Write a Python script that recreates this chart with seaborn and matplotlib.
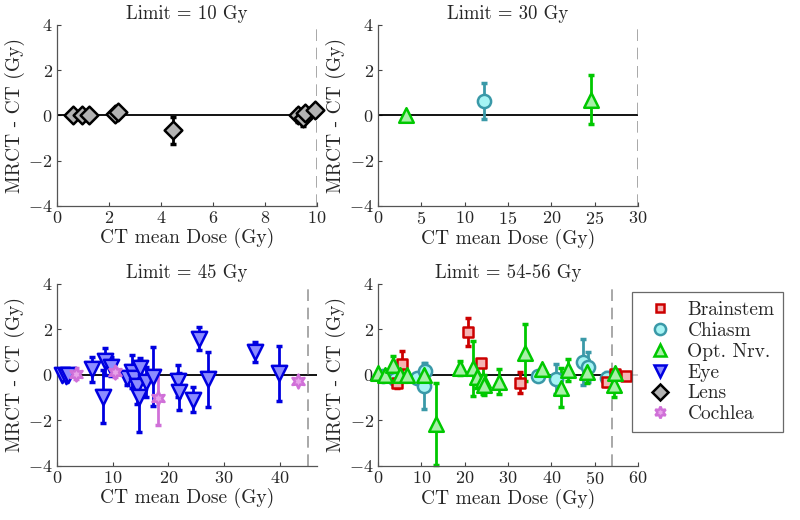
import numpy as np
import pandas as pd
import matplotlib
matplotlib.use("Agg")
import matplotlib.pyplot as plt
from matplotlib.lines import Line2D
import seaborn as sns

# ---------------- data ----------------
organs = ["Brainstem", "Chiasm", "Opt. Nrv.", "Eye", "Lens", "Cochlea"]
panel_titles = ["Limit = 10 Gy", "Limit = 30 Gy", "Limit = 45 Gy", "Limit = 54-56 Gy"]
panel_limits = [10, 30, 45, 54]
panel_xmax = [10, 30, 46.6, 60]
panel_xticks = [[0, 2, 4, 6, 8, 10], [0, 5, 10, 15, 20, 25, 30],
                [0, 10, 20, 30, 40], [0, 10, 20, 30, 40, 50, 60]]

# panel 1 : Lens
p1_lens_x = [0.62, 0.95, 1.23, 2.23, 2.35, 4.46, 9.27, 9.45, 9.54, 9.92]
p1_lens_y = [0.0, 0.0, 0.0, 0.05, 0.15, -0.65, 0.0, -0.1, 0.1, 0.26]
p1_lens_e = [0.0, 0.0, 0.0, 0.1, 0.1, 0.6, 0.3, 0.36, 0.25, 0.15]

# panel 2
p2_chiasm_x = [12.2]
p2_chiasm_y = [0.65]
p2_chiasm_e = [0.8]
p2_optnrv_x = [3.2, 24.6]
p2_optnrv_y = [0.02, 0.7]
p2_optnrv_e = [0.0, 1.07]

# panel 3
p3_eye_x = [1.0, 1.6, 2.0, 6.3, 8.3, 8.7, 9.8, 12.5, 13.4, 13.8, 14.3, 14.7,
            14.9, 15.9, 17.3, 21.7, 21.9, 24.4, 25.5, 27.1, 35.6, 39.8]
p3_eye_y = [0.0, -0.05, 0.0, 0.25, -0.95, 0.6, 0.37, -0.15, 0.15, -0.15, -0.5,
            -0.95, 0.3, -0.3, -0.07, -0.25, -0.73, -1.1, 1.6, -0.2, 1.0, 0.07]
p3_eye_e = [0.0, 0.05, 0.0, 0.55, 1.15, 0.6, 0.42, 0.3, 0.72, 0.4, 0.8, 1.55,
            0.45, 0.65, 1.3, 0.7, 0.8, 0.55, 0.5, 1.2, 0.45, 1.2]
p3_coch_x = [3.5, 10.4, 18.2, 43.2]
p3_coch_y = [0.05, 0.12, -1.0, -0.27]
p3_coch_e = [0.25, 0.2, 1.2, 0.1]

# panel 4
p4_brain_x = [4.3, 5.5, 20.8, 23.7, 32.8, 52.9, 54.7, 57.2]
p4_brain_y = [-0.37, 0.48, 1.88, 0.54, -0.34, -0.3, 0.05, -0.05]
p4_brain_e = [0.2, 0.55, 0.63, 0.1, 0.45, 0.2, 0.1, 0.0]
p4_chiasm_x = [1.2, 3.9, 8.9, 10.5, 10.8, 37.0, 41.1, 47.2, 48.5, 52.8]
p4_chiasm_y = [-0.05, -0.2, -0.15, -0.48, 0.17, -0.04, -0.17, 0.56, 0.34, -0.12]
p4_chiasm_e = [0.0, 0.2, 0.1, 1.0, 0.35, 0.0, 0.65, 1.0, 0.65, 0.25]
p4_optnrv_x = [0.1, 1.6, 3.5, 5.1, 6.6, 10.6, 13.4, 18.9, 22.0, 22.9, 24.2,
               24.5, 28.0, 33.9, 37.8, 42.2, 43.9, 48.2, 54.5, 54.7]
p4_optnrv_y = [0.07, 0.0, 0.44, 0.0, 0.0, 0.0, -2.15, 0.29, 0.29, -0.07, -0.22,
               -0.44, -0.3, 0.98, 0.25, -0.56, 0.22, 0.15, -0.44, 0.1]
p4_optnrv_e = [0.05, 0.05, 0.4, 0.3, 0.1, 0.3, 1.8, 0.3, 1.2, 0.5, 0.6,
               0.45, 0.55, 1.25, 0.05, 0.85, 0.5, 0.5, 0.55, 0.1]

# ---------------- styles ----------------
edge = {"Brainstem": "#cc0000", "Chiasm": "#3a99a8", "Opt. Nrv.": "#00c800",
        "Eye": "#0000e0", "Lens": "#000000", "Cochlea": "#d070d8"}
face = {"Brainstem": "#f5b3b3", "Chiasm": "#a6f4f4", "Opt. Nrv.": "#a8f0a8",
        "Eye": "#8c8cff", "Lens": "#b3b3b3", "Cochlea": "#e8a3ea"}
mark = {"Brainstem": "s", "Chiasm": "o", "Opt. Nrv.": "^", "Eye": "v",
        "Lens": "D", "Cochlea": (6, 1, 0)}
msize = {"Brainstem": 7.5, "Chiasm": 9.5, "Opt. Nrv.": 10.5, "Eye": 11,
         "Lens": 9, "Cochlea": 10}

sns.set_style("ticks")
plt.rcParams["font.family"] = ["cmr10", "DejaVu Serif"]
plt.rcParams["mathtext.fontset"] = "cm"
plt.rcParams["axes.formatter.use_mathtext"] = True
plt.rcParams["axes.unicode_minus"] = True

rows = []
def add(panel, organ, xs, ys, es):
    for x, y, e in zip(xs, ys, es):
        rows.append(dict(panel=panel, organ=organ, x=x, y=y, e=e))

add(0, "Lens", p1_lens_x, p1_lens_y, p1_lens_e)
add(1, "Opt. Nrv.", p2_optnrv_x, p2_optnrv_y, p2_optnrv_e)
add(1, "Chiasm", p2_chiasm_x, p2_chiasm_y, p2_chiasm_e)
add(2, "Eye", p3_eye_x, p3_eye_y, p3_eye_e)
add(2, "Cochlea", p3_coch_x, p3_coch_y, p3_coch_e)
add(3, "Chiasm", p4_chiasm_x, p4_chiasm_y, p4_chiasm_e)
add(3, "Brainstem", p4_brain_x, p4_brain_y, p4_brain_e)
add(3, "Opt. Nrv.", p4_optnrv_x, p4_optnrv_y, p4_optnrv_e)
df = pd.DataFrame(rows)

fig = plt.figure(figsize=(8, 5.2), dpi=100)
positions = [[0.071, 0.604, 0.325, 0.348], [0.4725, 0.604, 0.325, 0.348],
             [0.071, 0.104, 0.325, 0.35], [0.4725, 0.104, 0.325, 0.35]]

for i in range(4):
    ax = fig.add_axes(positions[i])
    ax.axhline(0, color="black", lw=1.3, zorder=1)
    ax.axvline(panel_limits[i], color="#999999", lw=1.2, ls=(0, (7, 4)), zorder=1)
    sub = df[df.panel == i]
    for organ in sub.organ.unique():
        d = sub[sub.organ == organ]
        eb = ax.errorbar(d.x, d.y, yerr=d.e, fmt="none", ecolor=edge[organ],
                         elinewidth=2.0, capsize=2.5, capthick=2.5, zorder=2)
        for art in eb.lines[1] + eb.lines[2]:
            art.set_clip_on(False)
        sns.scatterplot(data=d, x="x", y="y", ax=ax, marker=mark[organ],
                        s=msize[organ] ** 2, color=face[organ],
                        edgecolor=edge[organ], linewidth=1.8, zorder=3,
                        legend=False, clip_on=False)
    ax.set_xlim(0, panel_xmax[i])
    ax.set_ylim(-4, 4)
    ax.set_xticks(panel_xticks[i])
    ax.set_yticks([-4, -2, 0, 2, 4])
    ax.set_title(panel_titles[i], fontsize=13.5, pad=4)
    ax.set_xlabel("CT mean Dose (Gy)", fontsize=14, labelpad=1)
    ax.set_ylabel("MRCT - CT (Gy)", fontsize=14, labelpad=2)
    ax.tick_params(direction="in", length=3, width=0.8, labelsize=13,
                   color="#444444", pad=3)
    for s in ["top", "right"]:
        ax.spines[s].set_visible(False)
    for s in ["left", "bottom"]:
        ax.spines[s].set_color("#555555")
        ax.spines[s].set_linewidth(0.9)

handles = [Line2D([], [], ls="none", marker=mark[o], markersize=msize[o] * 0.85,
                  markerfacecolor=face[o], markeredgecolor=edge[o],
                  markeredgewidth=1.8) for o in organs]
leg = fig.legend(handles, organs, loc="upper left", bbox_to_anchor=(0.79, 0.438),
                 fontsize=14, frameon=True, fancybox=False, edgecolor="#444444",
                 handlelength=2.0, handletextpad=0.4, borderpad=0.45,
                 labelspacing=0.15, borderaxespad=0)
leg.get_frame().set_linewidth(0.9)

fig.savefig("out.png", dpi=100)
